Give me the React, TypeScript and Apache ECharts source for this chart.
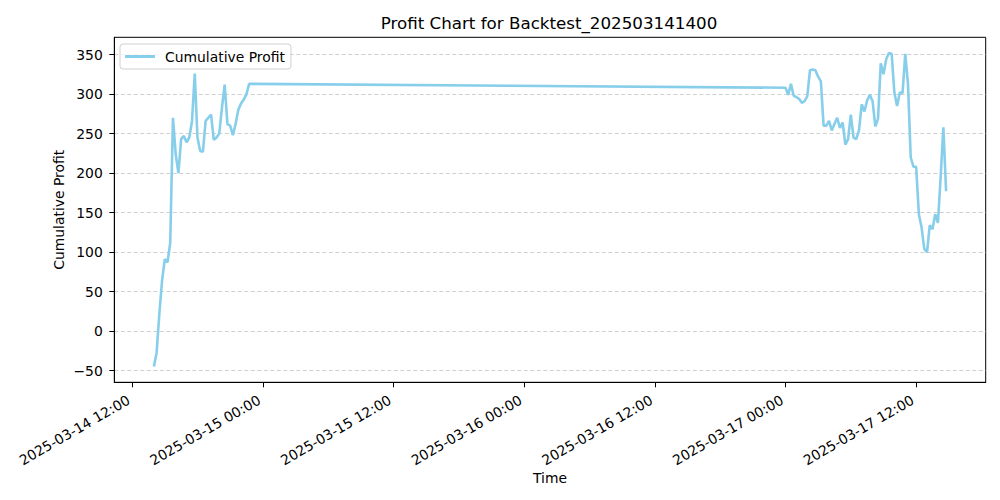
import { useEffect, useRef } from 'react'
import * as echarts from 'echarts'

// 15-minute samples, two trading sessions
const SESSION1_START = [2025, 2, 14, 14, 0]
const SESSION2_START = [2025, 2, 17, 0, 0]
const STEP_MIN = 15

const session1Profit = [
  -45, -27, 22, 64, 91, 87, 112, 270, 224, 200, 243, 247, 239, 245, 266, 326, 245, 228,
  227, 266, 270, 274, 242, 245, 250, 283, 312, 262, 260, 248, 262, 280, 288, 293, 300, 313,
]

const session2Profit = [
  308, 299, 313, 298, 296, 294, 289, 291, 297, 330, 331, 330, 322, 316, 260, 260, 266, 254,
  262, 270, 257, 264, 236, 243, 274, 245, 243, 254, 287, 278, 292, 299, 291, 259, 269, 339,
  325, 344, 352, 351, 302, 285, 302, 301, 351, 313, 220, 208, 208, 148, 131, 104, 100, 134,
  129, 148, 137, 195, 258, 177,
]

const xTickLabels = [
  '2025-03-14 12:00',
  '2025-03-15 00:00',
  '2025-03-15 12:00',
  '2025-03-16 00:00',
  '2025-03-16 12:00',
  '2025-03-17 00:00',
  '2025-03-17 12:00',
]
const yTicks = [-50, 0, 50, 100, 150, 200, 250, 300, 350]

const FONT = 'DejaVu Sans'

function toTs(s: string) {
  const [d, t] = s.split(' ')
  const [y, m, day] = d.split('-').map(Number)
  const [h, mi] = t.split(':').map(Number)
  return new Date(y, m - 1, day, h, mi).getTime()
}

function fmt(ts: number) {
  const d = new Date(ts)
  const p = (n: number) => String(n).padStart(2, '0')
  return `${d.getFullYear()}-${p(d.getMonth() + 1)}-${p(d.getDate())} ${p(d.getHours())}:${p(d.getMinutes())}`
}

function sessionPoints(start: number[], values: number[]) {
  const t0 = new Date(start[0], start[1], start[2], start[3], start[4]).getTime()
  return values.map((v, i) => [t0 + i * STEP_MIN * 60000, v])
}

export default function App() {
  const chartRef = useRef<HTMLDivElement>(null)

  useEffect(() => {
    if (!chartRef.current) return
    const chart = echarts.init(chartRef.current, null, { renderer: 'svg' })

    const data = [
      ...sessionPoints(SESSION1_START, session1Profit),
      ...sessionPoints(SESSION2_START, session2Profit),
    ]
    const tMin = data[0][0] as number
    const tMax = data[data.length - 1][0] as number
    const pad = (tMax - tMin) * 0.05
    const xTicks = xTickLabels.map(toTs)

    chart.setOption({
      animation: false,
      textStyle: { fontFamily: FONT },
      title: {
        text: 'Profit Chart for Backtest_202503141400',
        left: 549,
        top: 14,
        textAlign: 'center',
        padding: 0,
        textStyle: { fontFamily: FONT, fontSize: 16.7, fontWeight: 'normal', color: '#000' },
      },
      legend: {
        data: ['Cumulative Profit'],
        left: 120,
        top: 44,
        icon: 'rect',
        itemWidth: 30,
        itemHeight: 3,
        padding: [5, 6, 5, 5],
        borderColor: '#d0d0d0',
        borderWidth: 1,
        borderRadius: 3,
        backgroundColor: 'rgba(255,255,255,0.8)',
        textStyle: { fontFamily: FONT, fontSize: 13.9, color: '#000', padding: [0, 0, 0, 5], lineHeight: 15 },
      },
      grid: {
        left: 114.3,
        right: 14.3,
        top: 37.3,
        bottom: 117.7,
        show: true,
        borderColor: '#000',
        borderWidth: 1,
        outerBoundsMode: 'none',
      },
      xAxis: {
        type: 'value',
        min: tMin - pad,
        max: tMax + pad,
        name: 'Time',
        nameLocation: 'middle',
        nameGap: 89,
        nameMoveOverlap: false,
        nameTextStyle: { fontFamily: FONT, fontSize: 13.9, color: '#000' },
        axisLine: { show: true, onZero: false, lineStyle: { color: '#000', width: 1 } },
        axisTick: { show: true, length: 5, customValues: xTicks, lineStyle: { color: '#000' } },
        axisLabel: {
          customValues: xTicks,
          rotate: 30,
          margin: 14.5,
          padding: [0, 4, 0, 0],
          fontFamily: FONT,
          fontSize: 13.9,
          color: '#000',
          formatter: (v: number) => fmt(v),
        },
        splitLine: { show: false },
      },
      yAxis: {
        type: 'value',
        min: -64.85,
        max: 371.85,
        name: 'Cumulative Profit',
        nameLocation: 'middle',
        nameGap: 48,
        nameRotate: 90,
        nameMoveOverlap: false,
        nameTextStyle: { fontFamily: FONT, fontSize: 13.9, color: '#000' },
        axisLine: { show: true, onZero: false, lineStyle: { color: '#000', width: 1 } },
        axisTick: { show: true, length: 5, customValues: yTicks, lineStyle: { color: '#000' } },
        axisLabel: {
          customValues: yTicks,
          margin: 11.5,
          fontFamily: FONT,
          fontSize: 13.9,
          color: '#000',
          formatter: (v: number) => (v < 0 ? '\u2212' + Math.abs(v) : String(v)),
        },
        splitLine: { show: true, lineStyle: { color: '#d0d0d0', width: 1, type: [4, 2.5] } },
      },
      series: [
        {
          name: 'Cumulative Profit',
          type: 'line',
          data,
          symbol: 'none',
          lineStyle: { color: '#87CEEB', width: 2.6 },
          itemStyle: { color: '#87CEEB' },
        },
      ],
    })

    return () => {
      chart.dispose()
    }
  }, [])

  return (
    <div
      ref={chartRef}
      style={{ position: 'absolute', left: 0, top: 0, width: 1000, height: 500, background: '#fff' }}
    />
  )
}
